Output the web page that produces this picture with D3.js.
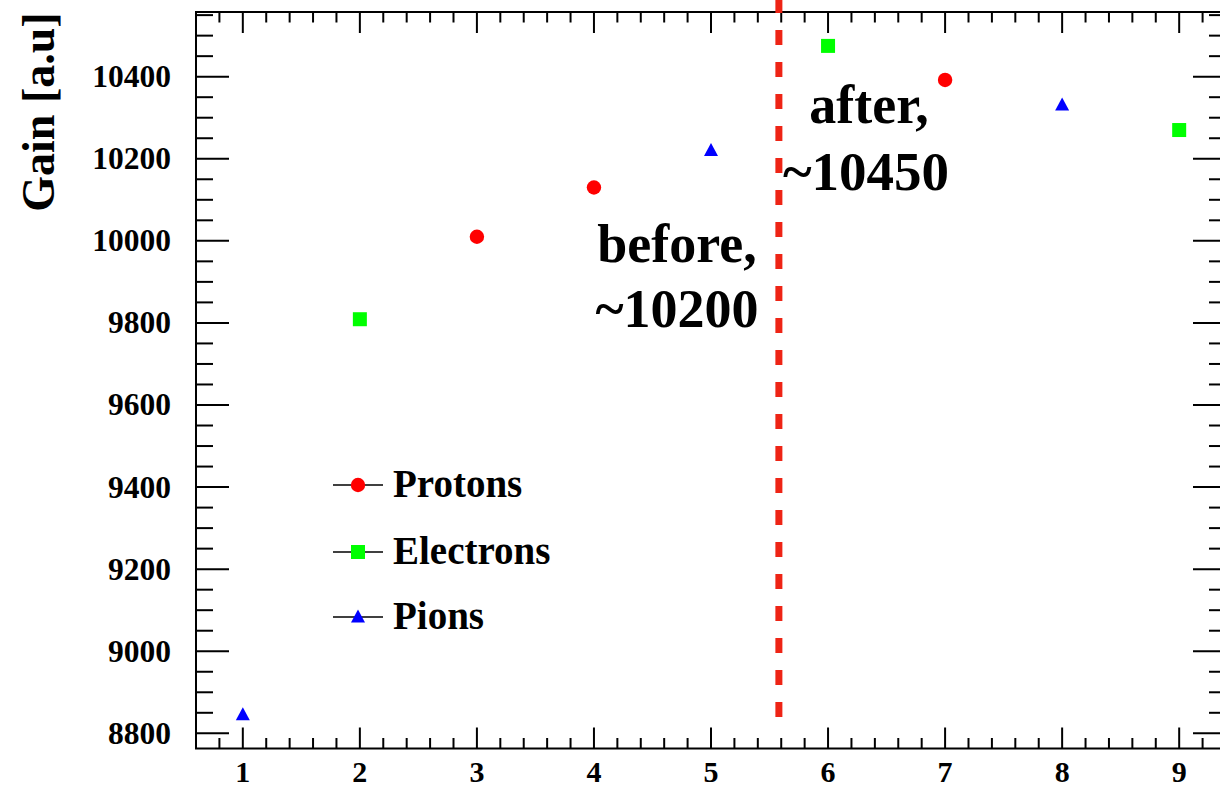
<!DOCTYPE html>
<html>
<head>
<meta charset="utf-8">
<script src="https://cdn.jsdelivr.net/npm/d3@7"></script>
<style>
  html, body { margin: 0; padding: 0; background: #fff; }
  svg { display: block; }
  text { font-family: "Liberation Serif", "DejaVu Serif", serif; font-weight: bold; fill: #000; }
</style>
</head>
<body>
<svg id="chart" width="1220" height="787"></svg>
<script>
// Run index on the x axis, gain on the y axis
const protonRuns = [3, 4, 7];
const protonGain = [10010, 10130, 10392];
const electronRuns = [2, 6, 9];
const electronGain = [9809, 10475, 10270];
const pionRuns = [1, 5, 8];
const pionGain = [8845, 10220, 10331];

const xTicks = [1, 2, 3, 4, 5, 6, 7, 8, 9];
const yTicks = [8800, 9000, 9200, 9400, 9600, 9800, 10000, 10200, 10400];

// Vertical marker separating the two running periods
const changeRun = 5.58;
const changeGainRange = [8840, 10592];
const beforeLabel = ["before,", "~10200"];
const afterLabel = ["after,", "~10450"];

const legendNames = ["Protons", "Electrons", "Pions"];

const svg = d3.select("#chart");
const frame = { left: 196, right: 1226, top: 12, bottom: 748.5 };

const x = d3.scaleLinear().domain([0.6, 9.4]).range([frame.left, frame.right]);
const y = d3.scaleLinear().domain([8763, 10557.6]).range([frame.bottom, frame.top]);

// Frame
svg.append("rect")
  .attr("x", frame.left).attr("y", frame.top)
  .attr("width", frame.right - frame.left).attr("height", frame.bottom - frame.top)
  .attr("fill", "none").attr("stroke", "#000").attr("stroke-width", 2);

// Minor and major ticks on all four sides
const xMinor = d3.range(0.6, 9.41, 0.2).map(v => Math.round(v * 10) / 10);
const yMinor = d3.range(8800, 10551, 50);

const ticks = svg.append("g").attr("stroke", "#000").attr("stroke-width", 2);
xMinor.forEach(v => {
  const isMajor = Math.abs(v - Math.round(v)) < 1e-6;
  const len = isMajor ? 21 : 10.5;
  ticks.append("line").attr("x1", x(v)).attr("x2", x(v))
    .attr("y1", frame.bottom).attr("y2", frame.bottom - len);
  ticks.append("line").attr("x1", x(v)).attr("x2", x(v))
    .attr("y1", frame.top).attr("y2", frame.top + len);
});
yMinor.forEach(v => {
  const isMajor = v % 200 === 0;
  const len = isMajor ? 33 : 17;
  ticks.append("line").attr("x1", frame.left).attr("x2", frame.left + len)
    .attr("y1", y(v)).attr("y2", y(v));
  ticks.append("line").attr("x1", frame.right).attr("x2", frame.right - len)
    .attr("y1", y(v)).attr("y2", y(v));
});

// Tick labels
svg.append("g").selectAll("text").data(yTicks).join("text")
  .attr("x", 171).attr("y", d => y(d) + 10.5)
  .attr("text-anchor", "end").attr("font-size", 31.5)
  .text(d => d);

svg.append("g").selectAll("text").data(xTicks).join("text")
  .attr("x", d => x(d)).attr("y", 782)
  .attr("text-anchor", "middle").attr("font-size", 30)
  .text(d => d);

// Axis title
svg.append("text")
  .attr("transform", "translate(54,112) rotate(-90)")
  .attr("text-anchor", "middle").attr("font-size", 46)
  .text("Gain [a.u]");

// Dashed divider
svg.append("line")
  .attr("x1", x(changeRun)).attr("x2", x(changeRun))
  .attr("y1", y(changeGainRange[1])).attr("y2", y(changeGainRange[0]))
  .attr("stroke", "#ee2415").attr("stroke-width", 7)
  .attr("stroke-dasharray", "15 17");

// Annotations
const ann = svg.append("g").attr("font-size", 54).attr("text-anchor", "middle");
ann.append("text").attr("x", 677).attr("y", 262).text(beforeLabel[0]);
ann.append("text").attr("x", 677).attr("y", 327).text(beforeLabel[1]);
ann.append("text").attr("x", 869).attr("y", 123).text(afterLabel[0]);
ann.append("text").attr("x", 866).attr("y", 190).attr("font-size", 55).text(afterLabel[1]);

// Marker shapes
const circleSym = d3.symbol().type(d3.symbolCircle).size(Math.PI * 7.2 * 7.2);
const triPath = "M0,-7.5L7,5.5L-7,5.5Z";

const g = svg.append("g");
g.selectAll(".proton").data(protonRuns).join("path")
  .attr("class", "proton")
  .attr("transform", (d, i) => `translate(${x(d)},${y(protonGain[i])})`)
  .attr("d", circleSym).attr("fill", "#ff0000");

g.selectAll(".electron").data(electronRuns).join("rect")
  .attr("class", "electron")
  .attr("x", d => x(d) - 7).attr("y", (d, i) => y(electronGain[i]) - 7)
  .attr("width", 14).attr("height", 14).attr("fill", "#00ff00");

g.selectAll(".pion").data(pionRuns).join("path")
  .attr("class", "pion")
  .attr("transform", (d, i) => `translate(${x(d)},${y(pionGain[i])})`)
  .attr("d", triPath).attr("fill", "#0000ff");

// Legend
const legendY = [485, 552, 617];
const legendFill = ["#ff0000", "#00ff00", "#0000ff"];
const lg = svg.append("g");
legendNames.forEach((name, i) => {
  const cy = legendY[i];
  lg.append("line").attr("x1", 333).attr("x2", 383).attr("y1", cy).attr("y2", cy)
    .attr("stroke", "#000").attr("stroke-width", 1.5);
  if (i === 0) {
    lg.append("path").attr("transform", `translate(358,${cy})`).attr("d", circleSym).attr("fill", legendFill[i]);
  } else if (i === 1) {
    lg.append("rect").attr("x", 351).attr("y", cy - 7).attr("width", 14).attr("height", 14).attr("fill", legendFill[i]);
  } else {
    lg.append("path").attr("transform", `translate(358,${cy})`).attr("d", triPath).attr("fill", legendFill[i]);
  }
  lg.append("text").attr("x", 393).attr("y", cy + 12).attr("font-size", 39).text(name);
});
</script>
</body>
</html>
